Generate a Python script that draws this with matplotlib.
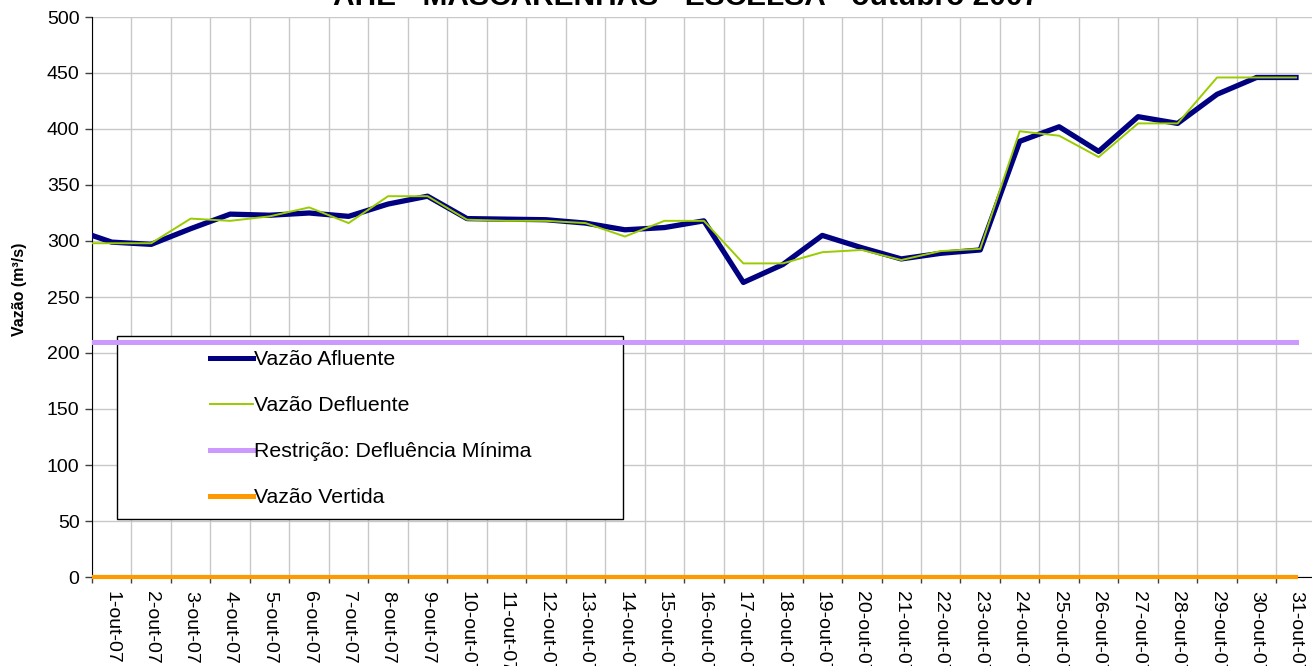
import matplotlib
matplotlib.use("Agg")
import matplotlib.pyplot as plt
from matplotlib.lines import Line2D
from matplotlib.patches import Rectangle
from matplotlib.transforms import Bbox, TransformedBbox

plt.rcParams['font.family'] = ['Liberation Sans', 'DejaVu Sans']

# ---- data ----
title = "AHE - MASCARENHAS - ESCELSA - outubro 2007"
day_labels = ["1-out-07", "2-out-07", "3-out-07", "4-out-07", "5-out-07", "6-out-07",
              "7-out-07", "8-out-07", "9-out-07", "10-out-07", "11-out-07", "12-out-07",
              "13-out-07", "14-out-07", "15-out-07", "16-out-07", "17-out-07", "18-out-07",
              "19-out-07", "20-out-07", "21-out-07", "22-out-07", "23-out-07", "24-out-07",
              "25-out-07", "26-out-07", "27-out-07", "28-out-07", "29-out-07", "30-out-07",
              "31-out-07"]
# previous day (30-set-07), hidden left of the axis
prev_afluente = 311
prev_defluente = 298
afluente = [299, 297, 311, 324, 323, 325, 322, 333, 340, 320, 319.5, 319, 316, 310, 312,
            318, 263, 279, 305, 294, 284, 289, 292, 389, 402, 380, 411, 405, 431, 446, 446]
defluente = [298, 298, 320, 318, 322, 330, 316, 340, 340, 319, 318, 318, 316, 304, 318,
             318, 280, 280, 290, 292, 283, 291, 293, 398, 394, 375, 405, 405, 446, 446, 446]
restricao_min = 210
vertida = 0

series_names = ["Vazão Afluente", "Vazão Defluente",
                "Restrição: Defluência Mínima", "Vazão Vertida"]
colors = ["#000080", "#99cc00", "#cc99ff", "#ff9900"]

# ---- figure ----
W, H = 1312, 666
fig = plt.figure(figsize=(W / 100, H / 100), dpi=100)
ax = fig.add_axes([92 / W, (H - 577) / H, (W - 92) / W, (577 - 17) / H])

n = len(day_labels)
xs = list(range(0, n + 1))          # 0 = previous day
x0, x1 = 0.5, 31.405
ax.set_xlim(x0, x1)
ax.set_ylim(0, 500)

af_all = [prev_afluente] + afluente
de_all = [prev_defluente] + defluente

vline, = ax.plot(xs, [vertida] * len(xs), color=colors[3], lw=3.0, zorder=4)
vline.set_clip_box(TransformedBbox(Bbox([[x0, -30], [x1, 500]]), ax.transData))
ax.plot(xs, [restricao_min] * len(xs), color=colors[2], lw=3.6, zorder=6)
ax.plot(xs, af_all, color=colors[0], lw=3.8, zorder=7, solid_joinstyle='round')
ax.plot(xs, de_all, color=colors[1], lw=1.4, zorder=8)

# legend box (opaque, below the minimum-restriction line)
rect = Rectangle((117 / W, (H - 519) / H), (623 - 117) / W, (519 - 336) / H,
                 transform=fig.transFigure, facecolor='white', edgecolor='black',
                 lw=1.0, zorder=5)
ax.add_artist(rect)

handles = [Line2D([], [], color=colors[0], lw=3.6),
           Line2D([], [], color=colors[1], lw=1.4),
           Line2D([], [], color=colors[2], lw=3.6),
           Line2D([], [], color=colors[3], lw=3.6)]
leg = ax.legend(handles, series_names, loc='upper left',
                bbox_to_anchor=(210 / W, (H - 350) / H),
                bbox_transform=fig.transFigure, frameon=False,
                fontsize=15.3, handlelength=2.0, handletextpad=0.08,
                labelspacing=1.27, borderpad=0, borderaxespad=0)
leg.set_zorder(5.5)

# grid and ticks
yt = list(range(0, 501, 50))
ax.set_yticks(yt)
ax.set_yticklabels([str(v) for v in yt], fontsize=14)
bounds = [i + 0.5 for i in range(0, n)]
ax.set_xticks(bounds)
ax.set_xticklabels([])
ax.set_xticks(list(range(1, n + 1)), minor=True)
ax.set_xticklabels(day_labels, minor=True, rotation=-90, fontsize=14,
                   ha='center', va='top')
ax.tick_params(axis='x', which='minor', length=0, pad=10)
ax.tick_params(axis='x', which='major', length=4, width=1, color='#404040', direction='out')
ax.tick_params(axis='y', length=5, width=1, color='#404040', direction='out', pad=4)

ax.grid(True, which='major', color='#c8c8c8', lw=1.0, zorder=0)
ax.set_axisbelow(True)
for s in ['top', 'right']:
    ax.spines[s].set_visible(False)
ax.spines['left'].set_color('black')
ax.spines['bottom'].set_color('black')

ax.set_ylabel("Vazão (m³/s)", fontsize=11.5, fontweight='bold')
ax.yaxis.set_label_coords(-(92 - 27) / (W - 92), (577 - 289) / (577 - 17))

fig.text(686 / W, 1 - 5 / H, title, fontsize=21.5, fontweight='bold',
         ha='center', va='baseline')

fig.savefig("out.png", dpi=100)
